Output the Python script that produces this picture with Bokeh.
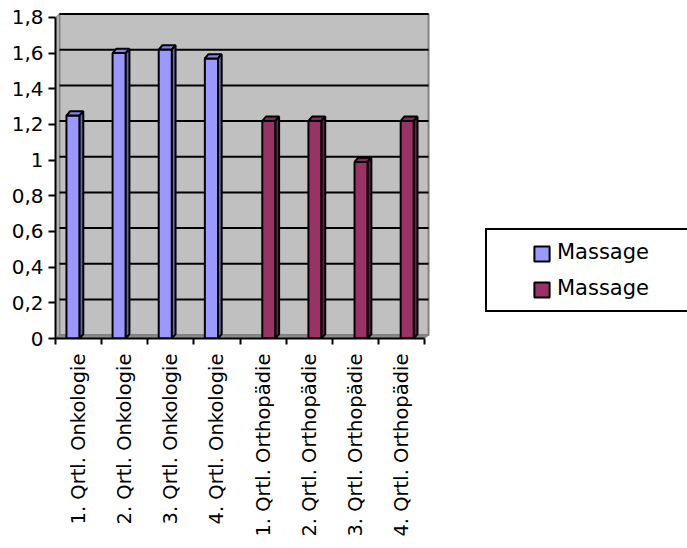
import math
from bokeh.plotting import figure
from bokeh.models import Range1d, FixedTicker, Legend, LegendItem
from bokeh.embed import file_html
from bokeh.resources import INLINE

# ---------------- data ----------------
categories = ["1. Qrtl. Onkologie", "2. Qrtl. Onkologie", "3. Qrtl. Onkologie", "4. Qrtl. Onkologie",
              "1. Qrtl. Orthopädie", "2. Qrtl. Orthopädie", "3. Qrtl. Orthopädie", "4. Qrtl. Orthopädie"]
series_names = ["Massage", "Massage"]
series_1 = [1.25, 1.60, 1.62, 1.57, None, None, None, None]
series_2 = [None, None, None, None, 1.22, 1.22, 0.99, 1.22]
y_ticks = [0, 0.2, 0.4, 0.6, 0.8, 1.0, 1.2, 1.4, 1.6, 1.8]
y_labels = ["0", "0,2", "0,4", "0,6", "0,8", "1", "1,2", "1,4", "1,6", "1,8"]

# ---------------- style ----------------
FONT = "DejaVu Sans"
front_colors = ["#9999FF", "#993366"]
top_colors = ["#8484E6", "#832B56"]
side_colors = ["#6666B3", "#662244"]
bar_centers = [0.38, 0.625]
bar_w = 0.285

n = len(categories)
XMAX = 13.70
YMAX = 1.895
DX, DY = 0.0866, 0.0190      # wall depth (data units)
BDX, BDY = 0.08, 0.024       # bar depth

p = figure(width=687, height=548, output_backend="svg", toolbar_location=None,
           x_range=Range1d(0, XMAX), y_range=Range1d(0, YMAX),
           min_border_left=55, min_border_right=0, min_border_top=0, min_border_bottom=210)
p.background_fill_color = "white"
p.border_fill_color = "white"
p.outline_line_color = None
p.grid.visible = False

ytop = y_ticks[-1]
# back wall
p.patch([DX, n + DX, n + DX, DX], [DY, DY, ytop + DY, ytop + DY],
        fill_color="#C0C0C0", line_color="#808080", line_width=2)
# left wall
p.patch([0, DX, DX, 0], [0, DY, ytop + DY, ytop],
        fill_color="#B4B4B4", line_color="#808080", line_width=1)
# floor
p.patch([0, n, n + DX, DX], [0, 0, DY, DY],
        fill_color="#8C8C8C", line_color="#808080", line_width=1)
# gridlines on back wall
gx, gy = [], []
for t in y_ticks[1:]:
    gx.append([DX, n + DX])
    gy.append([t + DY, t + DY])
p.multi_line(gx, gy, line_color="black", line_width=2)

# bars (3D)
front_renderers = []
for s, vals in enumerate([series_1, series_2]):
    L, R, T = [], [], []
    txs, tys, sxs, sys_ = [], [], [], []
    for i, v in enumerate(vals):
        if v is None:
            continue
        x0 = i + bar_centers[s] - bar_w / 2
        x1 = i + bar_centers[s] + bar_w / 2
        L.append(x0); R.append(x1); T.append(v)
        txs.append([x0, x1, x1 + BDX, x0 + BDX]); tys.append([v, v, v + BDY, v + BDY])
        sxs.append([x1, x1 + BDX, x1 + BDX, x1]); sys_.append([0, BDY, v + BDY, v])
    r = p.quad(left=L, right=R, bottom=0, top=T, fill_color=front_colors[s],
               line_color="black", line_width=2)
    p.patches(txs, tys, fill_color=top_colors[s], line_color="black", line_width=2)
    p.patches(sxs, sys_, fill_color=side_colors[s], line_color="black", line_width=2)
    front_renderers.append(r)

# axes
xa = p.xaxis[0]
xa.bounds = (0, n)
xa.ticker = FixedTicker(ticks=[i + 0.5 for i in range(n)], minor_ticks=list(range(n + 1)))
xa.major_label_overrides = {i + 0.5: c for i, c in enumerate(categories)}
xa.major_label_orientation = math.pi / 2
xa.major_tick_out = 0
xa.major_tick_in = 0
xa.minor_tick_out = 6
xa.minor_tick_in = 0
xa.minor_tick_line_width = 2
xa.minor_tick_line_color = "black"
xa.axis_line_width = 2
xa.axis_line_color = "black"
xa.major_label_standoff = 9
xa.major_label_text_font = FONT
xa.major_label_text_font_size = "19.5px"
xa.major_label_text_color = "black"

ya = p.yaxis[0]
ya.bounds = (0, ytop)
ya.ticker = FixedTicker(ticks=y_ticks, minor_ticks=[])
ya.major_label_overrides = {t: l for t, l in zip(y_ticks, y_labels)}
ya.major_tick_out = 7
ya.major_tick_in = 0
ya.major_tick_line_width = 2
ya.major_tick_line_color = "black"
ya.axis_line_width = 2
ya.axis_line_color = "black"
ya.major_label_standoff = 5
ya.major_label_text_font = FONT
ya.major_label_text_font_size = "20px"
ya.major_label_text_color = "black"

# legend box with the texts
legend_text = Legend(items=[LegendItem(label=series_names[k], renderers=[]) for k in range(2)],
                     location=(430, 26), orientation="vertical", padding=4, spacing=0, margin=0,
                     glyph_width=62, glyph_height=36, label_standoff=4, label_width=126, label_height=36,
                     label_text_font=FONT, label_text_font_size="21px", label_text_color="black",
                     border_line_color="black", border_line_width=2, border_line_alpha=1.0,
                     background_fill_color="white", background_fill_alpha=1.0)
p.add_layout(legend_text, "center")
# legend swatches
legend_keys = Legend(items=[LegendItem(label="", renderers=[front_renderers[k]]) for k in range(2)],
                     location=(477, 39), orientation="vertical", padding=0, spacing=17, margin=0,
                     glyph_width=19, glyph_height=19, label_standoff=0, label_width=0, label_height=19,
                     label_text_font_size="1px",
                     border_line_color=None, background_fill_alpha=0.0)
p.add_layout(legend_keys, "center")

open("out.html", "w").write(file_html(p, INLINE))
